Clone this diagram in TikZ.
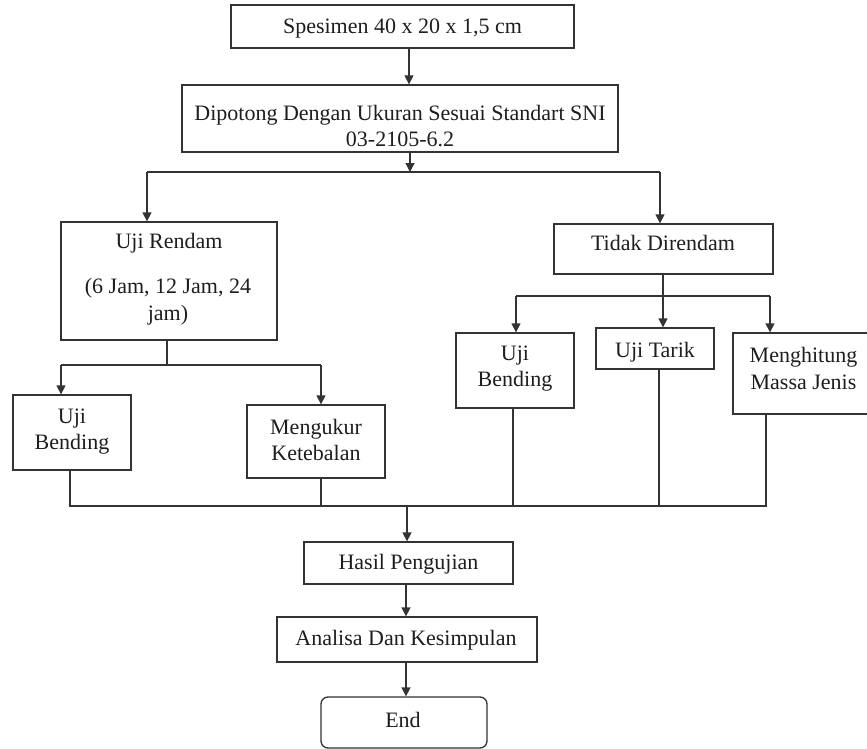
\documentclass[tikz,border=0pt]{standalone}
\usepackage{fontspec}
\setmainfont{Liberation Serif}
\usetikzlibrary{arrows.meta}
\definecolor{ln}{HTML}{333333}
\definecolor{tx}{HTML}{1E1E1E}
\tikzset{
  box/.style={draw=ln, line width=1.3pt, rectangle, inner sep=0pt},
  rbox/.style={box, rounded corners=7pt},
  txt/.style={inner sep=0pt, text=tx, font=\fontsize{22}{26.5}\selectfont},
  one/.style={txt, text height=15pt, text depth=5pt},
  multi/.style={txt, align=center},
  conn/.style={draw=ln, line width=1.3pt},
  arr/.style={conn, -{Triangle[length=9pt,width=9pt]}}
}
\begin{document}
\begin{tikzpicture}[x=1pt,y=-1pt]
\useasboundingbox (0,0) rectangle (867,749);
\fill[white] (0,0) rectangle (867,749);
% boxes
\node[box, minimum width=343pt, minimum height=43pt] (b1) at (402.5,26.5) {};
\node[box, minimum width=436pt, minimum height=67pt] (b2) at (400,118.5) {};
\node[box, minimum width=216pt, minimum height=118pt] (b3) at (169,281) {};
\node[box, minimum width=219pt, minimum height=50pt] (b4) at (663.5,249) {};
\node[box, minimum width=118pt, minimum height=75pt] (b5) at (72,432.5) {};
\node[box, minimum width=138pt, minimum height=73pt] (b6) at (316,441.5) {};
\node[box, minimum width=118pt, minimum height=75pt] (b7) at (515,370.5) {};
\node[box, minimum width=118pt, minimum height=41pt] (b8) at (655,348.5) {};
\node[box, minimum width=141pt, minimum height=81pt] (b9) at (803.5,373.5) {};
\node[box, minimum width=209pt, minimum height=42pt] (b10) at (408.5,563) {};
\node[box, minimum width=260pt, minimum height=45pt] (b11) at (407,639.5) {};
\node[rbox, minimum width=166pt, minimum height=51pt] (b12) at (404,722.5) {};
% texts
\node[one] (t1) at (402.5,29) {Spesimen 40 x 20 x 1,5 cm};
\node[multi] (t2) at (400,126) {Dipotong Dengan Ukuran Sesuai Standart SNI\\03-2105-6.2};
\node[one] (t3a) at (169,243) {Uji Rendam};
\node[multi] (t3b) at (168,301.5) {(6 Jam, 12 Jam, 24\\jam)};
\node[one] (t4) at (663,245) {Tidak Direndam};
\node[multi] (t5) at (72,431.5) {Uji\\Bending};
\node[multi] (t6) at (316,440) {Mengukur\\Ketebalan};
\node[multi] (t7) at (515,368.5) {Uji\\Bending};
\node[one] (t8) at (655,352) {Uji Tarik};
\node[multi] (t9) at (803.5,368.5) {Menghitung\\Massa Jenis};
\node[one] (t10) at (408.5,564) {Hasil Pengujian};
\node[one] (t11) at (406,640) {Analisa Dan Kesimpulan};
\node[one] (t12) at (403,722) {End};
% junction coordinates
\coordinate (a1) at (409,0);
\coordinate (j1) at (410,172);
\coordinate (j1L) at (147,172);
\coordinate (j1R) at (660,172);
\coordinate (j2) at (167,365);
\coordinate (j2L) at (61,365);
\coordinate (j2R) at (321,365);
\coordinate (j3) at (663,296);
\coordinate (j3L) at (516,296);
\coordinate (j3R) at (770,296);
\coordinate (c1) at (70,506);
\coordinate (c2) at (321,506);
\coordinate (c3) at (513,506);
\coordinate (c4) at (659,506);
\coordinate (c5) at (766,506);
\coordinate (cm) at (407,506);
\coordinate (m) at (406,0);
% connectors
\draw[arr] (b1.south -| a1) -- (b2.north -| a1);
\draw[arr] (b2.south -| j1) -- (j1);
\draw[conn] (j1L) -- (j1R);
\draw[arr] (j1L) -- (b3.north -| j1L);
\draw[arr] (j1R) -- (b4.north -| j1R);
\draw[conn] (b3.south -| j2) -- (j2);
\draw[conn] (j2L) -- (j2R);
\draw[arr] (j2L) -- (b5.north -| j2L);
\draw[arr] (j2R) -- (b6.north -| j2R);
\draw[arr] (b4.south -| j3) -- (b8.north -| j3);
\draw[conn] (j3L) -- (j3R);
\draw[arr] (j3L) -- (b7.north -| j3L);
\draw[arr] (j3R) -- (b9.north -| j3R);
\draw[conn] (b5.south -| c1) -- (c1) -- (c5) -- (b9.south -| c5);
\draw[conn] (b6.south -| c2) -- (c2);
\draw[conn] (b7.south -| c3) -- (c3);
\draw[conn] (b8.south -| c4) -- (c4);
\draw[arr] (cm) -- (b10.north -| cm);
\draw[arr] (b10.south -| m) -- (b11.north -| m);
\draw[arr] (b11.south -| m) -- (b12.north -| m);
\end{tikzpicture}
\end{document}
